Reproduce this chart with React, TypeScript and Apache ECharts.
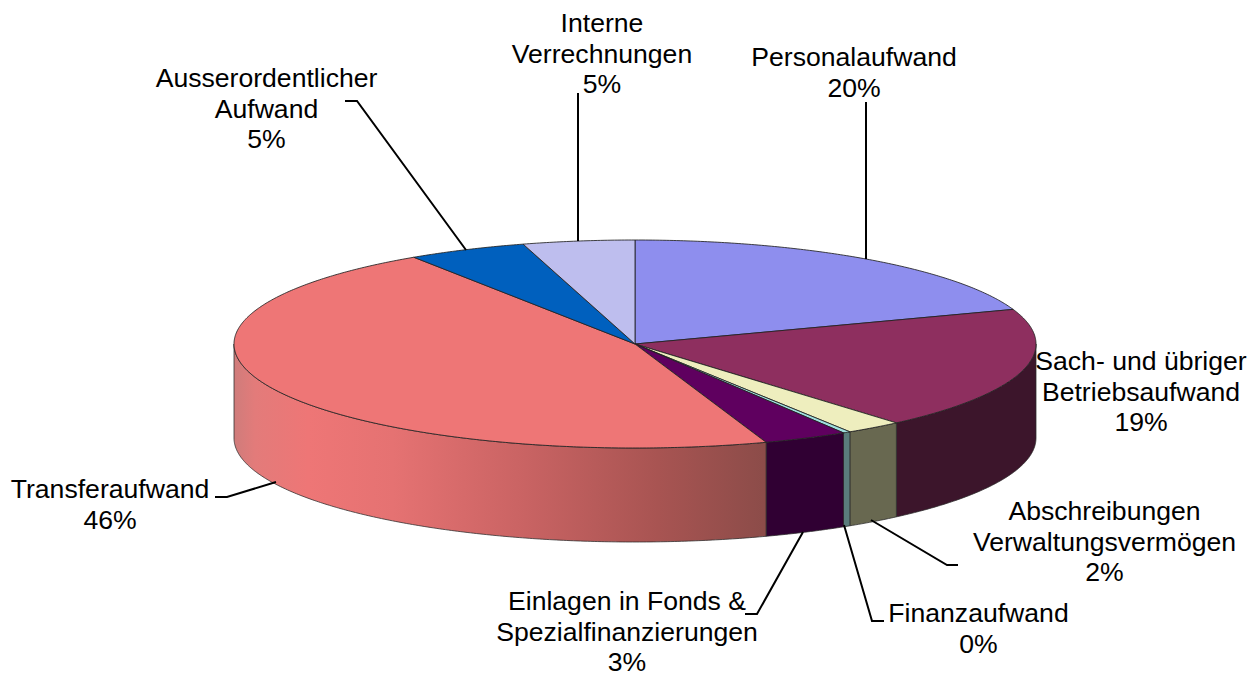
import React, { useEffect, useRef } from "react";
import * as echarts from "echarts";

const categories = [
  "Personalaufwand",
  "Sach- und übriger\nBetriebsaufwand",
  "Abschreibungen\nVerwaltungsvermögen",
  "Finanzaufwand",
  "Einlagen in Fonds &\nSpezialfinanzierungen",
  "Transferaufwand",
  "Ausserordentlicher\nAufwand",
  "Interne\nVerrechnungen",
];
const values = [19.6, 19.1, 2.3, 0.3, 3.4, 46.0, 4.8, 4.5];
const percentLabels = ["20%", "19%", "2%", "0%", "3%", "46%", "5%", "5%"];

const topColors = ["#8E8EEE", "#8E2F5F", "#EEEEBE", "#A0E0E0", "#5F005F", "#EE7676", "#0060BE", "#BEBEEE"];
const sideColors = ["#5F5F9E", "#3C152B", "#686850", "#5A7C7C", "#300033", "#EE7676", "#004080", "#7E7E9E"];

const CX = 635, CY = 344, RX = 401, RY = 104, DEPTH = 94;
const FONT = "Liberation Sans";
const FS = 26.6;
const LH = 30.7;

const labelAnchors: [number, number][] = [
  [854, 41.6], [1141, 345.6], [1104.5, 495.6], [978.5, 597.6], [627, 585.6], [110, 473.6], [266.5, 62.6], [602, 7.6],
];
const leaderLines: [number, number][][] = [
  [[866, 102], [866, 259]],
  [],
  [[958, 565], [947, 565], [871, 520]],
  [[884, 621], [872, 621], [844, 525]],
  [[745, 614], [757, 614], [803, 532]],
  [[215, 497], [227, 497], [276, 482]],
  [[345, 101], [357, 101], [466, 250]],
  [[578, 93], [578, 241]],
];

const total = values.reduce((a, b) => a + b, 0);
const pt = (deg: number, dy = 0): [number, number] => {
  const r = (deg * Math.PI) / 180;
  return [CX + RX * Math.sin(r), CY - RY * Math.cos(r) + dy];
};
const arc = (a0: number, a1: number, dy = 0) => {
  const n = Math.max(2, Math.ceil(Math.abs(a1 - a0) * 2));
  const out: [number, number][] = [];
  for (let i = 0; i <= n; i++) out.push(pt(a0 + ((a1 - a0) * i) / n, dy));
  return out;
};

function renderItem(params: any, api: any) {
  const i = params.dataIndex;
  let sum = 0;
  for (let k = 0; k < i; k++) sum += values[k];
  const a0 = (sum / total) * 360;
  const a1 = ((sum + api.value(0)) / total) * 360;
  const children: any[] = [];
  const s0 = Math.max(a0, 90), s1 = Math.min(a1, 270);
  if (s1 > s0) {
    const fill =
      i === 5
        ? new echarts.graphic.LinearGradient(
            CX - RX, 0, CX - RX + 530, 0,
            [
              { offset: 0, color: "#CF7C7B" },
              { offset: 0.04, color: "#E37B7A" },
              { offset: 0.14, color: "#EE7676" },
              { offset: 0.3, color: "#E57272" },
              { offset: 0.55, color: "#C96363" },
              { offset: 0.8, color: "#A85452" },
              { offset: 1, color: "#8C4C49" },
            ],
            true
          )
        : sideColors[i];
    children.push({
      type: "polygon",
      shape: { points: [...arc(s0, s1), ...arc(s1, s0, DEPTH)] },
      style: { fill, stroke: "#2A2A2A", lineWidth: 1, strokeOpacity: 0.75 },
    });
  }
  children.push({
    type: "polygon",
    shape: { points: [[CX, CY], ...arc(a0, a1)] },
    style: { fill: topColors[i], stroke: "#222222", lineWidth: 1, strokeOpacity: 0.85 },
  });
  return { type: "group", children };
}

export default function App() {
  const ref = useRef<HTMLDivElement>(null);
  useEffect(() => {
    document.body.style.margin = "0";
    const chart = echarts.init(ref.current!, null, { renderer: "svg" });
    const graphics: any[] = [];
    leaderLines.forEach((points) => {
      if (points.length)
        graphics.push({
          type: "polyline",
          z: 5,
          shape: { points },
          style: { fill: "none", stroke: "#000", lineWidth: 2 },
        });
    });
    categories.forEach((name, i) => {
      graphics.push({
        type: "text",
        z: 6,
        x: labelAnchors[i][0],
        y: labelAnchors[i][1],
        style: {
          text: `${name}\n${percentLabels[i]}`,
          font: `${FS}px "${FONT}"`,
          fill: "#000",
          align: "center",
          verticalAlign: "top",
          lineHeight: LH,
        },
      });
    });
    chart.setOption({
      animation: false,
      backgroundColor: "#fff",
      graphic: graphics,
      series: [
        {
          type: "custom",
          coordinateSystem: "none",
          silent: true,
          renderItem,
          data: values.map((v) => [v]),
        },
      ],
    });
    return () => chart.dispose();
  }, []);
  return <div ref={ref} style={{ width: 1260, height: 675 }} />;
}
